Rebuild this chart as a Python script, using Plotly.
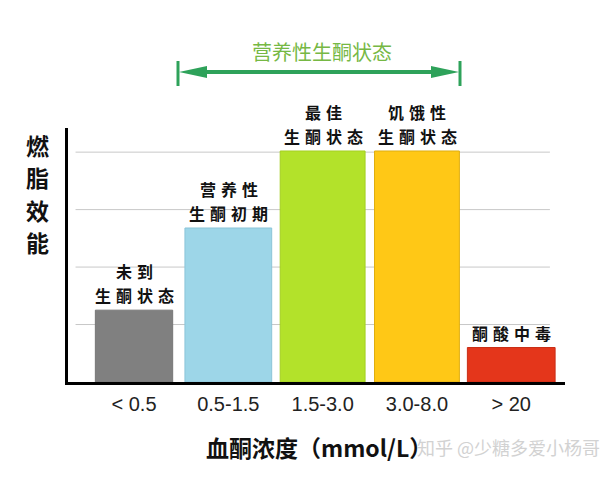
import plotly.graph_objects as go

# data
categories = ["< 0.5", "0.5-1.5", "1.5-3.0", "3.0-8.0", "> 20"]
efficiency = [1.25, 2.68, 4.02, 4.02, 0.6]
bar_labels = [
    ["未到", "生酮状态"],
    ["营养性", "生酮初期"],
    ["最佳", "生酮状态"],
    ["饥饿性", "生酮状态"],
    ["酮酸中毒"],
]
grid_levels = [1, 2, 3, 4]

bar_colors = ["#808080", "#9dd6e8", "#b3e22a", "#ffc816", "#e4361b"]
edge_colors = ["#777777", "#8cc4d8", "#a4cf22", "#dfae10", "#c92d16"]
bar_widths = [0.82, 0.92, 0.9, 0.9, 0.93]

W, H = 600, 480
L, R, T, B = 68, 35, 128, 98


def px(x):
    return (x - L) / (W - L - R)


def py(y):
    return (H - B - y) / (H - T - B)


def text_at(x, y, text, font):
    # free text placed by pixel position, anchored on its centre
    return dict(
        x=px(x), y=py(y), xref="paper", yref="paper", text=text,
        showarrow=False, xanchor="center", yanchor="middle", font=font,
    )


fig = go.Figure()
fig.add_trace(
    go.Bar(
        x=list(range(len(categories))),
        y=efficiency,
        width=bar_widths,
        marker=dict(color=bar_colors, line=dict(color=edge_colors, width=1)),
        hoverinfo="skip",
    )
)

label_font = dict(family="Noto Sans CJK SC", size=16, color="#111111", weight="bold")
annotations = []
for i, lines in enumerate(bar_labels):
    for k, line in enumerate(reversed(lines)):
        annotations.append(
            dict(
                x=i,
                y=efficiency[i],
                xref="x",
                yref="y",
                text='<span style="letter-spacing:5px">' + line + "</span>",
                showarrow=False,
                xanchor="center",
                yanchor="middle",
                yshift=15 + 24 * k,
                xshift=3,
                font=label_font,
            )
        )

# vertical y-axis title, one character per row
for k, ch in enumerate("燃脂效能"):
    annotations.append(
        text_at(37, 145 + 32.3 * k, ch,
                dict(family="Noto Sans CJK SC", size=23, color="#111111", weight="bold"))
    )

annotations += [
    text_at(322, 51, "营养性生酮状态",
            dict(family="Noto Sans CJK SC", size=20, color="#76b844")),
    text_at(319, 447, "血酮浓度（mmol/L）",
            dict(family="Noto Sans CJK SC", size=23, color="#111111", weight="bold")),
    text_at(508, 447, "知乎 @少糖多爱小杨哥",
            dict(family="Noto Sans CJK SC", size=18, color="#d2d2d2")),
]

green = "#2ea25a"
shapes = [
    dict(type="line", xref="x", yref="y", x0=-0.62, x1=4.41, y0=g, y1=g,
         line=dict(color="#c8c8c8", width=1), layer="below")
    for g in grid_levels
]
shapes += [
    dict(type="line", xref="paper", yref="paper", x0=px(195), x1=px(445),
         y0=py(72), y1=py(72), line=dict(color=green, width=4)),
    dict(type="line", xref="paper", yref="paper", x0=px(178), x1=px(178),
         y0=py(61), y1=py(86), line=dict(color=green, width=3)),
    dict(type="line", xref="paper", yref="paper", x0=px(460), x1=px(460),
         y0=py(61), y1=py(86), line=dict(color=green, width=3)),
    dict(type="path", xref="paper", yref="paper", line=dict(width=0), fillcolor=green,
         path="M {},{} L {},{} L {},{} Z".format(px(179), py(72), px(207), py(66), px(207), py(78))),
    dict(type="path", xref="paper", yref="paper", line=dict(width=0), fillcolor=green,
         path="M {},{} L {},{} L {},{} Z".format(px(459), py(72), px(431), py(66), px(431), py(78))),
]

fig.update_layout(
    width=W,
    height=H,
    margin=dict(l=L, r=R, t=T, b=B),
    plot_bgcolor="white",
    paper_bgcolor="white",
    showlegend=False,
    annotations=annotations,
    shapes=shapes,
    xaxis=dict(
        range=[-0.70, 4.57],
        tickmode="array",
        tickvals=list(range(len(categories))),
        ticktext=categories,
        tickfont=dict(family="Liberation Sans", size=20, color="#222222"),
        showline=True,
        linecolor="black",
        linewidth=3,
        showgrid=False,
        zeroline=False,
        ticks="",
        ticklabelstandoff=2,
        fixedrange=True,
    ),
    yaxis=dict(
        range=[0, 4.42],
        showline=True,
        linecolor="black",
        linewidth=3,
        showgrid=False,
        zeroline=False,
        showticklabels=False,
        ticks="",
        fixedrange=True,
    ),
)

# drop the browser's default body margin so the figure sits at the page corner
fig.write_html(
    "out.html",
    config={"displayModeBar": False},
    post_script="document.body.style.margin = '0';",
)
